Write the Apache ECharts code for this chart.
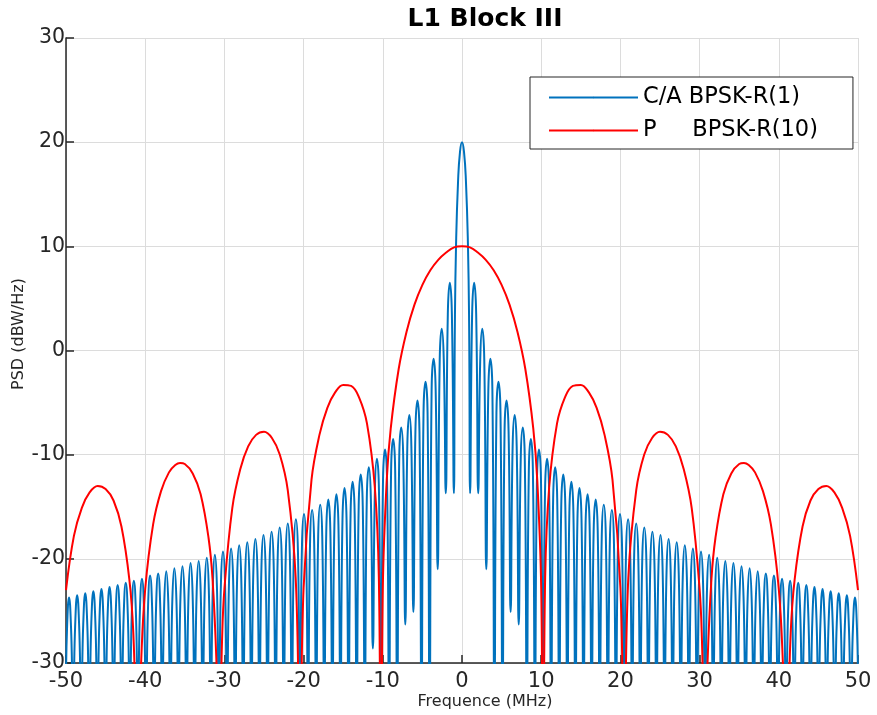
<!DOCTYPE html>
<html>
<head>
<meta charset="utf-8">
<title>L1 Block III</title>
<script src="https://cdn.jsdelivr.net/npm/echarts@6/dist/echarts.min.js"></script>
<style>
  html, body { margin: 0; padding: 0; background: #fff; }
  #chart { width: 877px; height: 715px; }
</style>
</head>
<body>
<div id="chart"></div>
<script>
// C/A BPSK-R(1)，零点间隔 1.023 MHz
var caChip = 1.023
// 主瓣（右半边，频率 MHz / dB）
var caMainFreq = [0, 0.25, 0.5, 0.75, 0.9]
var caMainValue = [20, 19.1, 16.2, 10.2, 2.5]
// 第 1..48 个旁瓣的峰值
var caPeakValue = [6.5, 2.1, -0.8, -3.0, -4.8, -6.2, -7.4, -8.5, -9.5, -10.4,
  -11.2, -11.9, -12.6, -13.2, -13.8, -14.3, -14.8, -15.3, -15.7, -16.2,
  -16.6, -17.0, -17.4, -17.7, -18.1, -18.4, -18.7, -19.0, -19.3, -19.6,
  -19.9, -20.2, -20.4, -20.7, -20.9, -21.2, -21.4, -21.6, -21.9, -22.1,
  -22.3, -22.5, -22.7, -22.9, -23.1, -23.3, -23.5, -23.7]
// 旁瓣四分之一宽处（峰两侧）的值
var caShoulderValue = [3.5, -0.9, -3.8, -6.0, -7.8, -9.2, -10.4, -11.5, -12.5, -13.4,
  -14.2, -14.9, -15.6, -16.2, -16.8, -17.3, -17.8, -18.3, -18.7, -19.2,
  -19.6, -20.0, -20.4, -20.7, -21.1, -21.4, -21.7, -22.0, -22.3, -22.6,
  -22.9, -23.2, -23.4, -23.7, -23.9, -24.2, -24.4, -24.6, -24.9, -25.1,
  -25.3, -25.5, -25.7, -25.9, -26.1, -26.3, -26.5, -26.7]
// 第 1..48 个零点处的最低值（-34 表示掉出坐标轴下面）
var caNullRight = [-13.7, -13.7, -21.0, -34, -34, -25.1, -26.3, -34, -34, -34,
  -34, -34, -34, -34, -34, -34, -34, -34, -34, -34,
  -34, -34, -34, -34, -34, -34, -34, -34, -34, -34,
  -34, -34, -34, -34, -34, -34, -34, -34, -34, -34,
  -34, -34, -34, -34, -34, -34, -34, -34]
var caNullLeft = [-13.7, -13.7, -21.0, -34, -34, -25.1, -26.3, -34, -34, -34,
  -28.6, -34, -34, -34, -34, -34, -34, -34, -34, -34,
  -34, -34, -34, -34, -34, -34, -34, -34, -34, -34,
  -34, -34, -34, -34, -34, -34, -34, -34, -34, -34,
  -34, -34, -34, -34, -34, -34, -34, -34]
var caEdgeValue = -32

// P BPSK-R(10)，右半边读数，左右对称
var pFreq = [0, 1, 2, 3, 4, 5, 6, 7, 8, 9, 9.5, 10, 10.23, 10.5,
  11, 12, 13, 14, 15, 16, 17, 18, 19, 20, 20.46, 21,
  22, 23, 24, 25, 26, 27, 28, 29, 30, 30.3, 30.69, 31, 31.5,
  32, 33, 34, 35, 35.6, 36.2, 37, 38, 39, 40, 40.5, 40.92, 41.5,
  42, 43, 44, 45, 46, 47, 48, 49, 50]
var pValue = [10, 9.9, 9.4, 8.7, 7.7, 6.3, 4.4, 1.8, -1.8, -7.5, -12.4, -22.8, -45, -21.8,
  -13.2, -7.0, -4.5, -3.4, -3.3, -4.0, -5.5, -8.1, -12.4, -22.8, -38, -21.8,
  -13.4, -10.0, -8.4, -7.8, -8.1, -9.2, -11.4, -15.1, -22.9, -27.9, -40, -30, -21.9,
  -18.0, -13.8, -11.8, -10.9, -10.8, -11.0, -11.7, -13.5, -16.7, -22.9, -29.7, -40, -27.1,
  -22.0, -16.9, -14.4, -13.3, -13.0, -13.6, -15.1, -17.8, -23.0]

var seriesNames = ['C/A BPSK-R(1)', 'P     BPSK-R(10)']

// 组装 C/A 曲线点：每个旁瓣 零点-肩-峰-肩
var caData = []
caData.push([-50, caEdgeValue])
for (var k = caPeakValue.length; k >= 1; k--) {
  caData.push([-caChip * (k + 0.75), caShoulderValue[k - 1]])
  caData.push([-caChip * (k + 0.5), caPeakValue[k - 1]])
  caData.push([-caChip * (k + 0.25), caShoulderValue[k - 1]])
  caData.push([-caChip * k, caNullLeft[k - 1]])
}
for (var i = caMainFreq.length - 1; i > 0; i--) {
  caData.push([-caMainFreq[i], caMainValue[i]])
}
for (i = 0; i < caMainFreq.length; i++) {
  caData.push([caMainFreq[i], caMainValue[i]])
}
for (k = 1; k <= caPeakValue.length; k++) {
  caData.push([caChip * k, caNullRight[k - 1]])
  caData.push([caChip * (k + 0.25), caShoulderValue[k - 1]])
  caData.push([caChip * (k + 0.5), caPeakValue[k - 1]])
  caData.push([caChip * (k + 0.75), caShoulderValue[k - 1]])
}
caData.push([50, caEdgeValue])

// 组装 P 码曲线点（镜像左半边）
var pData = []
for (i = pFreq.length - 1; i > 0; i--) {
  pData.push([-pFreq[i], pValue[i]])
}
for (i = 0; i < pFreq.length; i++) {
  pData.push([pFreq[i], pValue[i]])
}

var axisColor = '#262626'
var gridColor = '#dcdcdc'

var chart = echarts.init(document.getElementById('chart'))
var option = {
  animation: false,
  backgroundColor: '#fff',
  grid: {
    left: 66,
    right: 19,
    top: 38,
    bottom: 52,
    containLabel: false,
    outerBoundsMode: 'none'
  },
  legend: {
    orient: 'vertical',
    left: 530,
    top: 77,
    padding: [9, 35, 7, 18],
    itemGap: 10,
    itemWidth: 89,
    itemHeight: 2, // 图例圆点缩到看不见
    itemTextGap: 8,
    backgroundColor: '#fff',
    borderColor: axisColor,
    borderWidth: 1,
    borderRadius: 0,
    textStyle: {
      fontSize: 22.5,
      fontFamily: 'DejaVu Sans',
      color: '#000'
    },
    data: seriesNames
  },
  xAxis: {
    type: 'value',
    min: -50,
    max: 50,
    interval: 10,
    axisLine: { onZero: false, lineStyle: { color: axisColor, width: 1.5 } },
    axisTick: { inside: true, length: 8, lineStyle: { color: axisColor, width: 1.5 } },
    axisLabel: { color: axisColor, fontSize: 21, fontFamily: 'DejaVu Sans', margin: 8 },
    splitLine: { show: true, lineStyle: { color: gridColor, width: 1 } }
  },
  yAxis: {
    type: 'value',
    min: -30,
    max: 30,
    interval: 10,
    axisLine: { show: true, onZero: false, lineStyle: { color: axisColor, width: 1.5 } },
    axisTick: { show: true, inside: true, length: 8, lineStyle: { color: axisColor, width: 1.5 } },
    axisLabel: { color: axisColor, fontSize: 20.5, fontFamily: 'DejaVu Sans', margin: 1 },
    splitLine: { show: true, lineStyle: { color: gridColor, width: 1 } }
  },
  graphic: [
    {
      type: 'text',
      x: 485,
      y: 19.5,
      style: {
        text: 'L1 Block III',
        fontSize: 25,
        fontWeight: 'bold',
        fontFamily: 'DejaVu Sans',
        fill: '#000',
        align: 'center',
        verticalAlign: 'middle'
      }
    },
    {
      type: 'text',
      x: 485,
      y: 702,
      style: {
        text: 'Frequence (MHz)',
        fontSize: 16,
        fontFamily: 'DejaVu Sans',
        fill: axisColor,
        align: 'center',
        verticalAlign: 'middle'
      }
    },
    {
      type: 'text',
      x: 19,
      y: 334,
      rotation: Math.PI / 2,
      style: {
        text: 'PSD (dBW/Hz)',
        fontSize: 16,
        fontFamily: 'DejaVu Sans',
        fill: axisColor,
        align: 'center',
        verticalAlign: 'middle'
      }
    }
  ],
  series: [
    {
      name: seriesNames[0],
      type: 'line',
      data: caData,
      symbol: 'none',
      smooth: 0.5,
      clip: true,
      lineStyle: { color: '#0072BD', width: 2 },
      itemStyle: { color: '#0072BD' }
    },
    {
      name: seriesNames[1],
      type: 'line',
      data: pData,
      symbol: 'none',
      smooth: 0.4,
      clip: true,
      lineStyle: { color: '#FF0000', width: 2 },
      itemStyle: { color: '#FF0000' }
    }
  ]
}
chart.setOption(option)
</script>
</body>
</html>
